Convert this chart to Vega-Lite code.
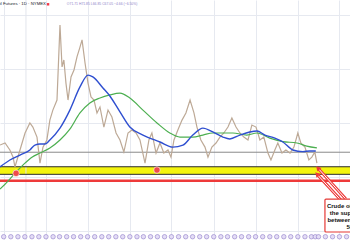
{
  "$schema": "https://vega.github.io/schema/vega-lite/v6.json",
  "width": 350,
  "height": 240,
  "padding": 0,
  "autosize": {"type": "none"},
  "background": "white",
  "config": {"view": {"stroke": null}, "font": "Liberation Sans"},
  "datasets": {
    "price": [
      {"d":"2021-06-15","p":71.8},{"d":"2021-07-07","p":72.8},{"d":"2021-07-28","p":69.4},{"d":"2021-08-11","p":65.9},{"d":"2021-08-19","p":61.1},{"d":"2021-09-10","p":69.4},{"d":"2021-10-02","p":77.7},{"d":"2021-10-23","p":82.6},{"d":"2021-11-05","p":80.6},{"d":"2021-11-23","p":75.7},{"d":"2021-12-06","p":63.0},{"d":"2021-12-19","p":70.8},{"d":"2022-01-05","p":74.3},{"d":"2022-01-18","p":84.0},{"d":"2022-01-31","p":88.9},{"d":"2022-02-18","p":93.8},{"d":"2022-03-03","p":130.5},{"d":"2022-03-12","p":110.0},{"d":"2022-03-20","p":113.4},{"d":"2022-03-29","p":102.1},{"d":"2022-04-07","p":93.8},{"d":"2022-04-20","p":105.1},{"d":"2022-05-03","p":108.5},{"d":"2022-05-16","p":114.9},{"d":"2022-05-29","p":119.7},{"d":"2022-06-07","p":123.2},{"d":"2022-06-20","p":111.9},{"d":"2022-07-03","p":102.1},{"d":"2022-07-16","p":95.3},{"d":"2022-07-29","p":93.8},{"d":"2022-08-11","p":87.5},{"d":"2022-08-24","p":90.4},{"d":"2022-09-10","p":80.6},{"d":"2022-09-28","p":88.9},{"d":"2022-10-15","p":85.5},{"d":"2022-11-02","p":77.7},{"d":"2022-11-19","p":74.3},{"d":"2022-12-06","p":68.4},{"d":"2022-12-24","p":77.7},{"d":"2023-01-10","p":79.2},{"d":"2023-01-28","p":77.7},{"d":"2023-02-14","p":74.3},{"d":"2023-03-08","p":63.0},{"d":"2023-03-25","p":74.3},{"d":"2023-04-07","p":77.7},{"d":"2023-04-25","p":67.9},{"d":"2023-05-12","p":72.8},{"d":"2023-05-29","p":67.9},{"d":"2023-06-16","p":69.4},{"d":"2023-06-29","p":65.9},{"d":"2023-07-12","p":74.3},{"d":"2023-07-29","p":79.2},{"d":"2023-08-16","p":84.0},{"d":"2023-09-02","p":87.5},{"d":"2023-09-20","p":93.8},{"d":"2023-10-07","p":87.5},{"d":"2023-10-20","p":80.6},{"d":"2023-11-06","p":74.3},{"d":"2023-11-24","p":70.8},{"d":"2023-12-07","p":65.9},{"d":"2023-12-24","p":70.8},{"d":"2024-01-11","p":72.8},{"d":"2024-01-28","p":75.7},{"d":"2024-02-14","p":77.7},{"d":"2024-03-03","p":80.6},{"d":"2024-03-20","p":85.0},{"d":"2024-04-07","p":80.6},{"d":"2024-04-24","p":77.7},{"d":"2024-05-11","p":75.7},{"d":"2024-05-29","p":74.3},{"d":"2024-06-15","p":81.6},{"d":"2024-07-03","p":80.6},{"d":"2024-07-20","p":74.3},{"d":"2024-08-06","p":75.7},{"d":"2024-08-24","p":67.9},{"d":"2024-09-06","p":64.5},{"d":"2024-09-23","p":69.4},{"d":"2024-10-06","p":72.8},{"d":"2024-10-24","p":67.9},{"d":"2024-11-10","p":69.4},{"d":"2024-11-28","p":67.9},{"d":"2024-12-15","p":70.8},{"d":"2025-01-01","p":77.7},{"d":"2025-01-14","p":72.8},{"d":"2025-02-01","p":70.8},{"d":"2025-02-18","p":64.5},{"d":"2025-03-03","p":65.9},{"d":"2025-03-16","p":68.4},{"d":"2025-03-25","p":63.0}
    ],
    "blue": [
      {"d":"2021-06-15","p":61.1},{"d":"2021-07-28","p":64.5},{"d":"2021-09-10","p":66.9},{"d":"2021-10-23","p":69.4},{"d":"2021-11-14","p":71.8},{"d":"2021-12-06","p":72.3},{"d":"2021-12-28","p":72.3},{"d":"2022-01-18","p":74.3},{"d":"2022-03-03","p":80.1},{"d":"2022-04-15","p":88.9},{"d":"2022-05-29","p":100.2},{"d":"2022-07-03","p":106.0},{"d":"2022-07-24","p":105.1},{"d":"2022-09-06","p":99.7},{"d":"2022-10-06","p":95.8},{"d":"2022-11-19","p":88.0},{"d":"2023-01-01","p":80.6},{"d":"2023-02-27","p":76.7},{"d":"2023-05-12","p":73.3},{"d":"2023-07-07","p":70.8},{"d":"2023-08-20","p":71.8},{"d":"2023-10-02","p":76.7},{"d":"2023-11-15","p":80.1},{"d":"2023-12-28","p":78.2},{"d":"2024-02-10","p":75.7},{"d":"2024-03-11","p":74.8},{"d":"2024-04-24","p":76.7},{"d":"2024-06-06","p":78.2},{"d":"2024-07-07","p":78.7},{"d":"2024-08-11","p":76.7},{"d":"2024-09-23","p":75.2},{"d":"2024-10-28","p":73.3},{"d":"2024-12-10","p":69.4},{"d":"2025-01-23","p":68.6},{"d":"2025-02-22","p":68.9},{"d":"2025-03-20","p":68.9}
    ],
    "green": [
      {"d":"2021-06-15","p":50.3},{"d":"2021-07-20","p":54.2},{"d":"2021-08-24","p":58.6},{"d":"2021-09-27","p":62.5},{"d":"2021-11-01","p":65.9},{"d":"2021-12-06","p":67.9},{"d":"2022-01-18","p":70.4},{"d":"2022-03-03","p":74.3},{"d":"2022-04-15","p":79.6},{"d":"2022-05-29","p":87.5},{"d":"2022-07-11","p":92.4},{"d":"2022-08-24","p":94.8},{"d":"2022-10-06","p":96.3},{"d":"2022-11-19","p":97.2},{"d":"2023-01-01","p":94.8},{"d":"2023-02-27","p":88.9},{"d":"2023-04-29","p":82.6},{"d":"2023-06-24","p":77.7},{"d":"2023-08-07","p":75.7},{"d":"2023-10-02","p":75.7},{"d":"2023-11-15","p":76.7},{"d":"2023-12-28","p":77.7},{"d":"2024-02-10","p":77.7},{"d":"2024-03-24","p":77.7},{"d":"2024-05-24","p":76.7},{"d":"2024-07-07","p":77.7},{"d":"2024-09-01","p":75.2},{"d":"2024-10-28","p":73.5},{"d":"2024-12-28","p":72.8},{"d":"2025-02-09","p":71.3},{"d":"2025-03-25","p":70.4}
    ],
    "events": [
      {"d":"2021-07-01"},{"d":"2021-08-01"},{"d":"2021-09-01"},{"d":"2021-10-01"},{"d":"2021-11-01"},{"d":"2021-12-01"},
      {"d":"2022-01-01"},{"d":"2022-02-01"},{"d":"2022-03-01"},{"d":"2022-04-01"},{"d":"2022-05-01"},{"d":"2022-06-01"},{"d":"2022-07-01"},{"d":"2022-08-01"},{"d":"2022-09-01"},{"d":"2022-10-01"},{"d":"2022-11-01"},{"d":"2022-12-01"},
      {"d":"2023-01-01"},{"d":"2023-02-01"},{"d":"2023-03-01"},{"d":"2023-04-01"},{"d":"2023-05-01"},{"d":"2023-06-01"},{"d":"2023-07-01"},{"d":"2023-08-01"},{"d":"2023-09-01"},{"d":"2023-10-01"},{"d":"2023-11-01"},{"d":"2023-12-01"},
      {"d":"2024-01-01"},{"d":"2024-02-01"},{"d":"2024-03-01"},{"d":"2024-04-01"},{"d":"2024-05-01"},{"d":"2024-06-01"},{"d":"2024-07-01"},{"d":"2024-08-01"},{"d":"2024-09-01"},{"d":"2024-10-01"},{"d":"2024-11-01"},{"d":"2024-12-01"},
      {"d":"2025-01-01"},{"d":"2025-02-01"},{"d":"2025-03-01"},{"d":"2025-03-18"},{"d":"2025-04-01"},{"d":"2025-05-01"},{"d":"2025-06-01"},{"d":"2025-07-01"},{"d":"2025-08-01"}
    ],
    "markers": [{"d":"2021-08-24","p":58.0},{"d":"2023-04-29","p":59.6}],
    "arrows": [
      {"d":"2025-07-29","p":45.4,"d2":"2025-03-29","p2":60.6},
      {"d":"2025-07-07","p":44.9,"d2":"2025-03-25","p2":57.6}
    ],
    "box": [{"d":"2025-04-29","d2":"2026-02-05","p":45.4,"p2":29.3}],
    "note": [
      {"p":42.0,"t":"Crude oil moves to"},
      {"p":38.6,"t":"the support zone"},
      {"p":35.2,"t":"between 55.12 and"},
      {"p":31.8,"t":"58.00"}
    ]
  },
  "layer": [
    {
      "data": {"values": [{"lo": 57.5, "hi": 61.2}]},
      "mark": {"type": "rect", "color": "#f4f40e"},
      "encoding": {
        "y": {"field": "lo", "type": "quantitative", "scale": {"domain": [25.4, 142.7], "nice": false, "zero": false},
          "axis": {"orient": "right", "labels": false, "ticks": false, "domain": false, "title": null, "grid": true, "gridColor": "#e6e9f0", "gridWidth": 1,
            "values": [142.0,135.5,128.9,122.3,115.7,109.1,102.5,95.9,89.3,82.7,76.1,69.5,62.9,56.3,49.7,43.1,36.5,29.9]}},
        "y2": {"field": "hi"}
      }
    },
    {
      "data": {"values": [{"d": "2021-10-06"}]},
      "mark": {"type": "rule", "color": "#e2e5ec", "strokeWidth": 1},
      "encoding": {"x": {"field": "d", "type": "temporal"}}
    },
    {
      "data": {"values": [{"v": 61.2}, {"v": 57.5}]},
      "mark": {"type": "rule", "color": "#2a2a2a", "strokeWidth": 1},
      "encoding": {"y": {"field": "v", "type": "quantitative"}}
    },
    {
      "data": {"values": [{"v": 54.4}]},
      "mark": {"type": "rule", "color": "#ee3a3a", "strokeWidth": 2.5},
      "encoding": {"y": {"field": "v", "type": "quantitative"}}
    },
    {
      "data": {"values": [{"v": 68.3}]},
      "mark": {"type": "rule", "color": "#8a8a8a", "strokeWidth": 1},
      "encoding": {"y": {"field": "v", "type": "quantitative"}}
    },
    {
      "data": {"name": "price"},
      "mark": {"type": "line", "color": "#bda996", "strokeWidth": 1.2},
      "encoding": {
        "x": {"field": "d", "type": "temporal",
          "scale": {"domain": [{"year": 2021, "month": 6, "date": 15}, {"year": 2025, "month": 8, "date": 16}]},
          "axis": {"title": null, "grid": true, "gridColor": "#e6e9f0", "ticks": false, "domain": true, "domainColor": "#e0e3eb",
            "labelFontSize": 5, "labelColor": "#555", "labelPadding": 1, "labelFlush": false, "labelOverlap": false,
            "values": [{"year":2021,"month":7,"date":1},{"year":2022,"month":1,"date":1},{"year":2022,"month":7,"date":1},{"year":2023,"month":1,"date":1},{"year":2023,"month":7,"date":1},{"year":2024,"month":1,"date":1},{"year":2024,"month":7,"date":1},{"year":2025,"month":1,"date":1},{"year":2025,"month":7,"date":1}],
            "labelExpr": "month(datum.value) == 0 ? timeFormat(datum.value, '%Y') : 'Jul'"}},
        "y": {"field": "p", "type": "quantitative"}
      }
    },
    {
      "data": {"name": "green"},
      "mark": {"type": "line", "color": "#4caf50", "strokeWidth": 1.2, "interpolate": "monotone"},
      "encoding": {"x": {"field": "d", "type": "temporal"}, "y": {"field": "p", "type": "quantitative"}}
    },
    {
      "data": {"name": "blue"},
      "mark": {"type": "line", "color": "#2f4fd0", "strokeWidth": 1.4, "interpolate": "monotone"},
      "encoding": {"x": {"field": "d", "type": "temporal"}, "y": {"field": "p", "type": "quantitative"}}
    },
    {
      "data": {"name": "markers"},
      "mark": {"type": "point", "filled": true, "color": "#ef4b4b", "size": 42, "stroke": "white", "strokeWidth": 0.6, "opacity": 1},
      "encoding": {"x": {"field": "d", "type": "temporal"}, "y": {"field": "p", "type": "quantitative"}}
    },
    {
      "data": {"name": "events"},
      "mark": {"type": "point", "filled": true, "color": "#e4ddf6", "size": 20, "stroke": "#8f7cc8", "strokeWidth": 0.6, "opacity": 1},
      "encoding": {"x": {"field": "d", "type": "temporal"}, "y": {"datum": 27.0}}
    },
    {
      "data": {"name": "arrows"},
      "mark": {"type": "rule", "color": "#ee3a3a", "strokeWidth": 3},
      "encoding": {"x": {"field": "d", "type": "temporal"}, "x2": {"field": "d2"}, "y": {"field": "p", "type": "quantitative"}, "y2": {"field": "p2"}}
    },
    {
      "data": {"name": "arrows"},
      "mark": {"type": "rule", "color": "white", "strokeWidth": 1},
      "encoding": {"x": {"field": "d", "type": "temporal"}, "x2": {"field": "d2"}, "y": {"field": "p", "type": "quantitative"}, "y2": {"field": "p2"}}
    },
    {
      "data": {"name": "arrows"},
      "mark": {"type": "point", "shape": "triangle-up", "filled": true, "color": "#ee3a3a", "size": 30, "angle": 318, "opacity": 1},
      "encoding": {"x": {"field": "d2", "type": "temporal"}, "y": {"field": "p2", "type": "quantitative"}}
    },
    {
      "data": {"name": "box"},
      "mark": {"type": "rect", "fill": "white", "stroke": "#e53935", "strokeWidth": 1.2, "cornerRadius": 1},
      "encoding": {"x": {"field": "d", "type": "temporal"}, "x2": {"field": "d2"}, "y": {"field": "p", "type": "quantitative"}, "y2": {"field": "p2"}}
    },
    {
      "data": {"name": "note"},
      "mark": {"type": "text", "fontWeight": "bold", "fontSize": 6, "color": "#111", "align": "center", "baseline": "middle"},
      "encoding": {"x": {"datum": {"year": 2025, "month": 9, "date": 2}, "type": "temporal"}, "y": {"field": "p", "type": "quantitative"}, "text": {"field": "t"}}
    },
    {
      "data": {"values": [{"d": "2021-08-10", "d2": "2021-11-27", "p": 25.1, "p2": 22.2}]},
      "mark": {"type": "rect", "color": "#131722"},
      "encoding": {"x": {"field": "d", "type": "temporal"}, "x2": {"field": "d2"}, "y": {"field": "p", "type": "quantitative"}, "y2": {"field": "p2"}}
    },
    {
      "data": {"values": [{"d": "2021-10-04", "p": 23.7, "t": "Wed 06 Oct '21"}]},
      "mark": {"type": "text", "fontSize": 4.3, "color": "white", "align": "center", "baseline": "middle"},
      "encoding": {"x": {"field": "d", "type": "temporal"}, "y": {"field": "p", "type": "quantitative"}, "text": {"field": "t"}}
    },
    {
      "data": {"values": [{"d": "2022-01-01", "p": 140.8, "t": "Crude Oil Futures · 1D · NYMEX"}]},
      "mark": {"type": "text", "fontSize": 4.3, "color": "#131722", "align": "right", "baseline": "middle"},
      "encoding": {"x": {"field": "d", "type": "temporal"}, "y": {"field": "p", "type": "quantitative"}, "text": {"field": "t"}}
    },
    {
      "data": {"values": [{"d": "2022-01-10", "p": 140.6}]},
      "mark": {"type": "point", "shape": "square", "filled": true, "color": "#f23645", "size": 6, "opacity": 1},
      "encoding": {"x": {"field": "d", "type": "temporal"}, "y": {"field": "p", "type": "quantitative"}}
    },
    {
      "data": {"values": [{"d": "2022-04-02", "p": 140.8, "t": "O71.71 H71.85 L66.85 C67.05 −4.66 (−6.50%)"}]},
      "mark": {"type": "text", "fontSize": 3.4, "color": "#9083c9", "align": "left", "baseline": "middle"},
      "encoding": {"x": {"field": "d", "type": "temporal"}, "y": {"field": "p", "type": "quantitative"}, "text": {"field": "t"}}
    }
  ]
}
